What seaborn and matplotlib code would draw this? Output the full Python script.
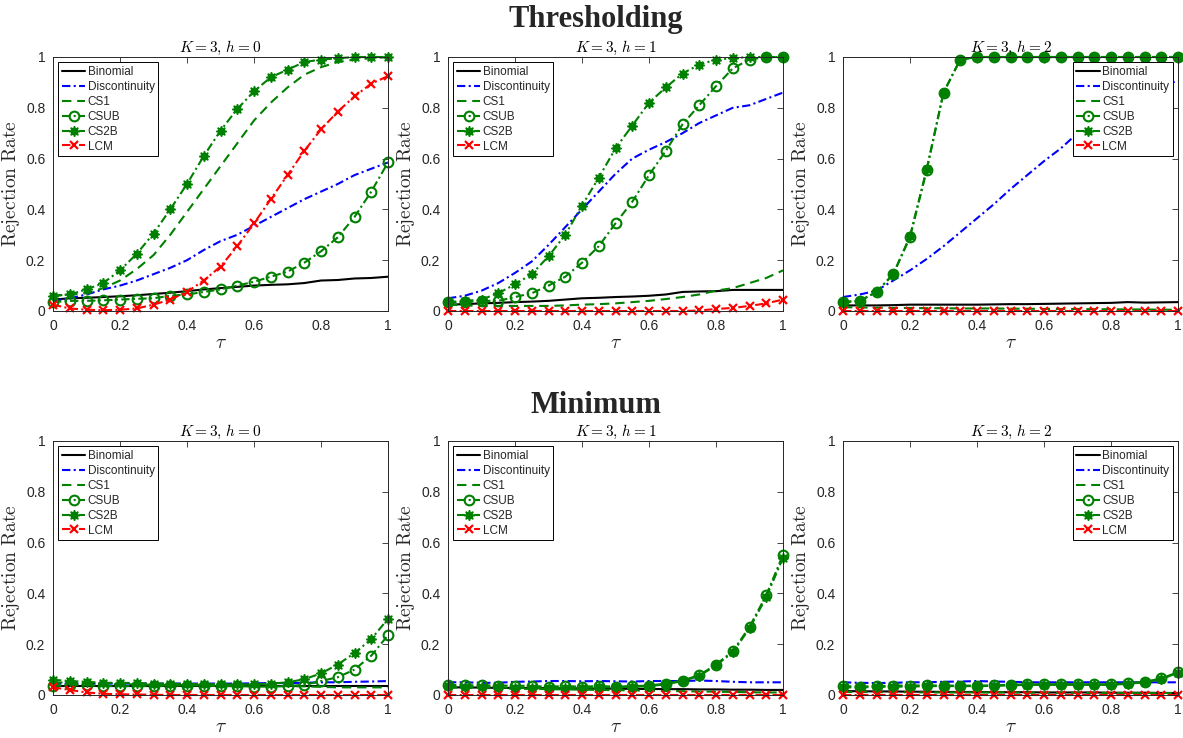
import matplotlib
matplotlib.use("Agg")
import matplotlib.pyplot as plt
import seaborn as sns
import numpy as np

tau = [0, 0.05, 0.1, 0.15, 0.2, 0.25, 0.3, 0.35, 0.4, 0.45, 0.5,
       0.55, 0.6, 0.65, 0.7, 0.75, 0.8, 0.85, 0.9, 0.95, 1.0]
series_names = ["Binomial", "Discontinuity", "CS1", "CSUB", "CS2B", "LCM"]
panel_titles = ["$K = 3,\\, h = 0$", "$K = 3,\\, h = 1$", "$K = 3,\\, h = 2$"]
row_titles = ["Thresholding", "Minimum"]
tick_vals = [0, 0.2, 0.4, 0.6, 0.8, 1]
tick_labels = ["0", "0.2", "0.4", "0.6", "0.8", "1"]

# ---------------- Thresholding, h = 0 ----------------
thr0_binomial = [0.045, 0.05, 0.052, 0.055, 0.058, 0.062, 0.067, 0.072, 0.078, 0.085, 0.09,
                 0.095, 0.10, 0.103, 0.105, 0.11, 0.12, 0.122, 0.128, 0.13, 0.135]
thr0_disc = [0.04, 0.05, 0.065, 0.085, 0.10, 0.12, 0.145, 0.17, 0.20, 0.24, 0.275,
             0.30, 0.335, 0.37, 0.405, 0.44, 0.47, 0.50, 0.535, 0.56, 0.585]
thr0_cs1 = [0.06, 0.065, 0.07, 0.09, 0.12, 0.165, 0.22, 0.30, 0.39, 0.48, 0.57,
            0.66, 0.75, 0.82, 0.88, 0.93, 0.96, 0.98, 0.99, 0.995, 1.0]
thr0_csub = [0.035, 0.04, 0.04, 0.042, 0.045, 0.048, 0.05, 0.06, 0.065, 0.075, 0.085,
             0.10, 0.115, 0.135, 0.155, 0.19, 0.235, 0.29, 0.37, 0.47, 0.585]
thr0_cs2b = [0.06, 0.065, 0.085, 0.11, 0.16, 0.225, 0.305, 0.40, 0.50, 0.61, 0.71,
             0.795, 0.865, 0.92, 0.95, 0.98, 0.99, 0.995, 1.0, 1.0, 1.0]
thr0_lcm = [0.025, 0.01, 0.005, 0.003, 0.005, 0.01, 0.025, 0.045, 0.075, 0.12, 0.175,
            0.255, 0.345, 0.44, 0.535, 0.63, 0.715, 0.785, 0.845, 0.895, 0.925]

# ---------------- Thresholding, h = 1 ----------------
thr1_binomial = [0.025, 0.027, 0.03, 0.032, 0.035, 0.037, 0.04, 0.045, 0.05, 0.052, 0.055,
                 0.057, 0.06, 0.065, 0.075, 0.077, 0.078, 0.083, 0.083, 0.083, 0.083]
thr1_disc = [0.05, 0.06, 0.08, 0.11, 0.15, 0.195, 0.26, 0.33, 0.40, 0.47, 0.54,
             0.60, 0.635, 0.665, 0.70, 0.74, 0.77, 0.80, 0.81, 0.835, 0.86]
thr1_cs1 = [0.025, 0.022, 0.02, 0.02, 0.02, 0.02, 0.02, 0.022, 0.025, 0.027, 0.03,
            0.035, 0.04, 0.047, 0.055, 0.065, 0.08, 0.09, 0.11, 0.13, 0.16]
thr1_csub = [0.035, 0.035, 0.04, 0.04, 0.055, 0.07, 0.10, 0.135, 0.19, 0.255, 0.345,
             0.43, 0.535, 0.63, 0.735, 0.81, 0.885, 0.955, 0.99, 1.0, 1.0]
thr1_cs2b = [0.035, 0.04, 0.045, 0.07, 0.105, 0.145, 0.215, 0.30, 0.415, 0.525, 0.64,
             0.73, 0.82, 0.88, 0.935, 0.97, 0.99, 0.995, 1.0, 1.0, 1.0]
thr1_lcm = [0.0, 0.0, 0.0, 0.0, 0.0, 0.0, 0.0, 0.0, 0.0, 0.0, 0.0,
            0.0, 0.0, 0.0, 0.0, 0.002, 0.008, 0.012, 0.02, 0.03, 0.045]

# ---------------- Thresholding, h = 2 ----------------
thr2_binomial = [0.022, 0.022, 0.022, 0.023, 0.025, 0.025, 0.025, 0.025, 0.025, 0.026, 0.027,
                 0.027, 0.028, 0.029, 0.03, 0.031, 0.032, 0.035, 0.033, 0.034, 0.035]
thr2_disc = [0.055, 0.065, 0.08, 0.12, 0.16, 0.205, 0.255, 0.31, 0.365, 0.42, 0.48,
             0.535, 0.59, 0.64, 0.70, 0.75, 0.80, 0.84, 0.87, 0.89, 0.905]
thr2_cs1 = [0.015, 0.014, 0.013, 0.012, 0.012, 0.011, 0.011, 0.01, 0.01, 0.01, 0.009,
            0.009, 0.008, 0.008, 0.008, 0.007, 0.007, 0.006, 0.006, 0.005, 0.005]
thr2_csub = [0.035, 0.04, 0.075, 0.145, 0.29, 0.555, 0.86, 0.99, 1.0, 1.0, 1.0,
             1.0, 1.0, 1.0, 1.0, 1.0, 1.0, 1.0, 1.0, 1.0, 1.0]
thr2_cs2b = [0.035, 0.04, 0.075, 0.145, 0.295, 0.56, 0.86, 0.99, 1.0, 1.0, 1.0,
             1.0, 1.0, 1.0, 1.0, 1.0, 1.0, 1.0, 1.0, 1.0, 1.0]
thr2_lcm = [0.0] * 21

# ---------------- Minimum, h = 0 ----------------
min0_binomial = [0.035, 0.035, 0.035, 0.035, 0.035, 0.035, 0.035, 0.035, 0.035, 0.035, 0.035,
                 0.035, 0.035, 0.035, 0.035, 0.035, 0.035, 0.035, 0.035, 0.035, 0.035]
min0_disc = [0.045, 0.045, 0.045, 0.045, 0.045, 0.045, 0.045, 0.045, 0.045, 0.045, 0.045,
             0.045, 0.046, 0.047, 0.047, 0.048, 0.05, 0.05, 0.052, 0.053, 0.055]
min0_cs1 = [0.05, 0.048, 0.045, 0.043, 0.042, 0.042, 0.04, 0.04, 0.04, 0.04, 0.038,
            0.038, 0.037, 0.036, 0.035, 0.034, 0.032, 0.03, 0.03, 0.03, 0.03]
min0_csub = [0.035, 0.04, 0.04, 0.035, 0.035, 0.035, 0.035, 0.037, 0.037, 0.037, 0.035,
             0.035, 0.033, 0.033, 0.035, 0.04, 0.055, 0.07, 0.10, 0.155, 0.235]
min0_cs2b = [0.06, 0.055, 0.052, 0.048, 0.048, 0.047, 0.045, 0.045, 0.043, 0.043, 0.042,
             0.042, 0.042, 0.045, 0.05, 0.062, 0.085, 0.12, 0.165, 0.22, 0.30]
min0_lcm = [0.03, 0.02, 0.01, 0.005, 0.003, 0.002, 0.001, 0.0, 0.0, 0.0, 0.0,
            0.0, 0.0, 0.0, 0.0, 0.0, 0.0, 0.0, 0.0, 0.0, 0.0]

# ---------------- Minimum, h = 1 ----------------
min1_binomial = [0.03, 0.03, 0.029, 0.028, 0.028, 0.027, 0.027, 0.026, 0.026, 0.025, 0.025,
                 0.024, 0.024, 0.023, 0.023, 0.022, 0.022, 0.021, 0.021, 0.02, 0.02]
min1_disc = [0.05, 0.05, 0.048, 0.048, 0.052, 0.053, 0.055, 0.055, 0.054, 0.055, 0.054,
             0.053, 0.055, 0.055, 0.055, 0.057, 0.055, 0.052, 0.05, 0.05, 0.05]
min1_cs1 = [0.03, 0.028, 0.027, 0.026, 0.025, 0.024, 0.023, 0.022, 0.021, 0.02, 0.019,
            0.018, 0.017, 0.016, 0.015, 0.014, 0.013, 0.012, 0.011, 0.01, 0.01]
min1_csub = [0.04, 0.038, 0.038, 0.037, 0.037, 0.035, 0.033, 0.035, 0.033, 0.035, 0.033,
             0.035, 0.037, 0.045, 0.057, 0.078, 0.12, 0.172, 0.268, 0.393, 0.552]
min1_cs2b = [0.035, 0.033, 0.03, 0.03, 0.028, 0.028, 0.027, 0.028, 0.028, 0.03, 0.03,
             0.032, 0.035, 0.042, 0.055, 0.075, 0.117, 0.168, 0.262, 0.385, 0.54]
min1_lcm = [0.0] * 21

# ---------------- Minimum, h = 2 ----------------
min2_binomial = [0.015, 0.015, 0.014, 0.014, 0.013, 0.013, 0.012, 0.012, 0.012, 0.011, 0.011,
                 0.011, 0.01, 0.01, 0.01, 0.01, 0.009, 0.009, 0.009, 0.008, 0.008]
min2_disc = [0.05, 0.048, 0.047, 0.048, 0.05, 0.05, 0.052, 0.053, 0.055, 0.053, 0.052,
             0.05, 0.05, 0.05, 0.05, 0.05, 0.05, 0.05, 0.05, 0.05, 0.05]
min2_cs1 = [0.012, 0.012, 0.011, 0.011, 0.011, 0.01, 0.01, 0.01, 0.01, 0.01, 0.01,
            0.009, 0.009, 0.009, 0.009, 0.008, 0.008, 0.008, 0.008, 0.008, 0.008]
min2_csub = [0.035, 0.033, 0.035, 0.037, 0.037, 0.038, 0.037, 0.037, 0.037, 0.038, 0.04,
             0.042, 0.042, 0.043, 0.042, 0.042, 0.042, 0.046, 0.052, 0.065, 0.09]
min2_cs2b = [0.03, 0.03, 0.032, 0.033, 0.033, 0.035, 0.035, 0.035, 0.035, 0.036, 0.038,
             0.04, 0.04, 0.04, 0.04, 0.04, 0.04, 0.044, 0.05, 0.062, 0.088]
min2_lcm = [0.0] * 21

panels = [
    [thr0_binomial, thr0_disc, thr0_cs1, thr0_csub, thr0_cs2b, thr0_lcm],
    [thr1_binomial, thr1_disc, thr1_cs1, thr1_csub, thr1_cs2b, thr1_lcm],
    [thr2_binomial, thr2_disc, thr2_cs1, thr2_csub, thr2_cs2b, thr2_lcm],
    [min0_binomial, min0_disc, min0_cs1, min0_csub, min0_cs2b, min0_lcm],
    [min1_binomial, min1_disc, min1_cs1, min1_csub, min1_cs2b, min1_lcm],
    [min2_binomial, min2_disc, min2_cs1, min2_csub, min2_cs2b, min2_lcm],
]

# ---------------- styling ----------------
sns.set_theme(style="white")
plt.rcParams["font.family"] = ["Liberation Sans", "DejaVu Sans"]
plt.rcParams["mathtext.fontset"] = "cm"

GREEN = "#008000"
dashdot = (0, (4, 1.6, 1, 1.6))
styles = [
    dict(color="black", linestyle="-", marker=None),
    dict(color="#0000ff", linestyle=dashdot, marker=None),
    dict(color=GREEN, linestyle=(0, (4.5, 2.8)), marker=None),
    dict(color=GREEN, linestyle=dashdot, marker="o", markersize=7,
         markerfacecolor="none", markeredgecolor=GREEN, markeredgewidth=1.5),
    dict(color=GREEN, linestyle=dashdot, marker=(8, 1, 0), markersize=7.5,
         markerfacecolor=GREEN, markeredgecolor=GREEN, markeredgewidth=1.0),
    dict(color="#ff0000", linestyle=dashdot, marker="x", markersize=6,
         markeredgecolor="#ff0000", markeredgewidth=1.6),
]

W, H = 1183, 738
fig = plt.figure(figsize=(W / 100, H / 100), dpi=100)

col_left = [53, 448, 843]
ax_w = 335
row_top = [57, 441]
ax_h = 254

AX_COLOR = "#262626"

for idx, data in enumerate(panels):
    r, c = divmod(idx, 3)
    left = col_left[c] / W
    bottom = 1 - (row_top[r] + ax_h) / H
    ax = fig.add_axes([left, bottom, ax_w / W, ax_h / H])
    for name, vals, st in zip(series_names, data, styles):
        kw = dict(st)
        if kw["marker"] is None:
            kw.pop("marker")
        sns.lineplot(x=tau, y=vals, ax=ax, label=name, linewidth=1.5,
                     errorbar=None, clip_on=False, **kw)
    ax.set_xlim(0, 1)
    ax.set_ylim(0, 1)
    ax.set_xticks(tick_vals)
    ax.set_xticklabels(tick_labels)
    ax.set_yticks(tick_vals)
    ax.set_yticklabels(tick_labels)
    ax.tick_params(direction="in", top=True, right=True, length=4.5, width=0.6,
                   colors=AX_COLOR, labelsize=10, pad=5.5)
    for sp in ax.spines.values():
        sp.set_color(AX_COLOR)
        sp.set_linewidth(0.7)
        sp.set_visible(True)
    ax.set_facecolor("white")
    ax.set_xlabel("$\\tau$", fontsize=14, color=AX_COLOR, labelpad=2)
    ax.set_ylabel("$\\mathrm{Rejection\\ Rate}$", fontsize=14, color=AX_COLOR)
    ax.yaxis.set_label_coords(-0.092, 0.5)
    ax.set_title(panel_titles[c], fontsize=11, color="black", pad=4)
    loc = "upper right" if c == 2 else "upper left"
    leg = ax.legend(loc=loc, fontsize=8.5, frameon=True, fancybox=False, framealpha=1,
                    edgecolor="black", borderaxespad=0.45, borderpad=0.3,
                    labelspacing=0.25, handlelength=2.0, handletextpad=0.2,
                    numpoints=1)
    leg.get_frame().set_linewidth(0.7)
    leg.set_zorder(10)

fig.text(596 / W, 1 - 27 / H, row_titles[0], ha="center", va="baseline",
         fontsize=22, fontweight="bold", family="Liberation Serif")
fig.text(596 / W, 1 - 413 / H, row_titles[1], ha="center", va="baseline",
         fontsize=22, fontweight="bold", family="Liberation Serif")

fig.savefig("out.png", dpi=100, facecolor="white")
